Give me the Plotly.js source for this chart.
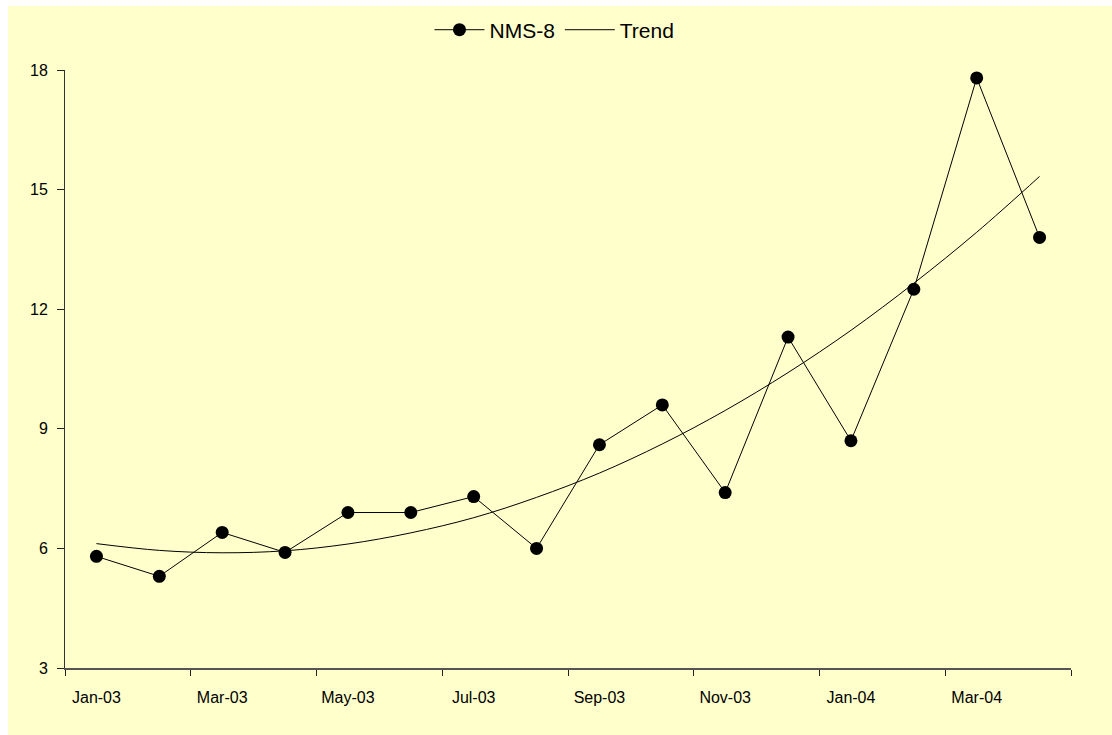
<!DOCTYPE html>
<html>
<head>
<meta charset="utf-8">
<script src="https://cdn.plot.ly/plotly-3.0.1.min.js"></script>
<style>
  html, body { margin: 0; padding: 0; background: #ffffff; }
  #chart { position: absolute; left: 8px; top: 6px; width: 1104px; height: 729px; }
</style>
</head>
<body>
<div id="chart"></div>
<script>
// Monthly observations, Jan 2003 – Apr 2004
const months = ["Jan-03", "Feb-03", "Mar-03", "Apr-03", "May-03", "Jun-03", "Jul-03", "Aug-03",
                "Sep-03", "Oct-03", "Nov-03", "Dec-03", "Jan-04", "Feb-04", "Mar-04", "Apr-04"];
const nms8 = [5.8, 5.3, 6.4, 5.9, 6.9, 6.9, 7.3, 6.0, 8.6, 9.6, 7.4, 11.3, 8.7, 12.5, 17.8, 13.8];
const trend = [6.12, 5.95, 5.89, 5.94, 6.11, 6.39, 6.77, 7.28, 7.89, 8.62, 9.46, 10.41, 11.47, 12.65, 13.93, 15.33];
const yTicks = [3, 6, 9, 12, 15, 18];

const font = "Liberation Sans, Arial, sans-serif";

const traces = [
  {
    x: months, y: nms8, name: "NMS-8", type: "scatter", mode: "lines+markers",
    line: { color: "#000000", width: 1 },
    marker: { color: "#000000", size: 13 }
  },
  {
    x: months, y: trend, name: "Trend", type: "scatter", mode: "lines",
    line: { color: "#000000", width: 1, shape: "spline", smoothing: 1 }
  }
];

const layout = {
  width: 1104, height: 729,
  paper_bgcolor: "#ffffcc", plot_bgcolor: "#ffffcc",
  margin: { l: 57, r: 41, t: 64, b: 67 },
  font: { family: font, color: "#000000", size: 16 },
  showlegend: true,
  legend: {
    orientation: "h", xref: "container", yref: "container",
    x: 0.495, xanchor: "center", y: 0.967, yanchor: "middle",
    font: { family: font, size: 21, color: "#000000" },
    bgcolor: "rgba(0,0,0,0)", itemwidth: 50, tracegroupgap: 0
  },
  // Labels on every second month, tick marks on the two-month boundaries
  xaxis: {
    type: "category", range: [-0.5, months.length - 0.5],
    tickmode: "linear", tick0: 0, dtick: 2, tickson: "boundaries",
    ticks: "outside", ticklen: 6, tickcolor: "#222222", tickwidth: 1,
    ticklabelstandoff: 14,
    showline: true, linecolor: "#555555", linewidth: 1.5,
    showgrid: false, zeroline: false, fixedrange: true,
    tickfont: { family: font, size: 16, color: "#000000" }
  },
  yaxis: {
    range: [3, 18], tickvals: yTicks, ticktext: yTicks.map(String),
    ticks: "outside", ticklen: 7, tickcolor: "#222222", tickwidth: 1,
    ticklabelstandoff: 6,
    showline: true, linecolor: "#333333", linewidth: 1,
    showgrid: false, zeroline: false, fixedrange: true,
    tickfont: { family: font, size: 16, color: "#000000" }
  }
};

Plotly.newPlot("chart", traces, layout, { displayModeBar: false, staticPlot: true });
</script>
</body>
</html>
